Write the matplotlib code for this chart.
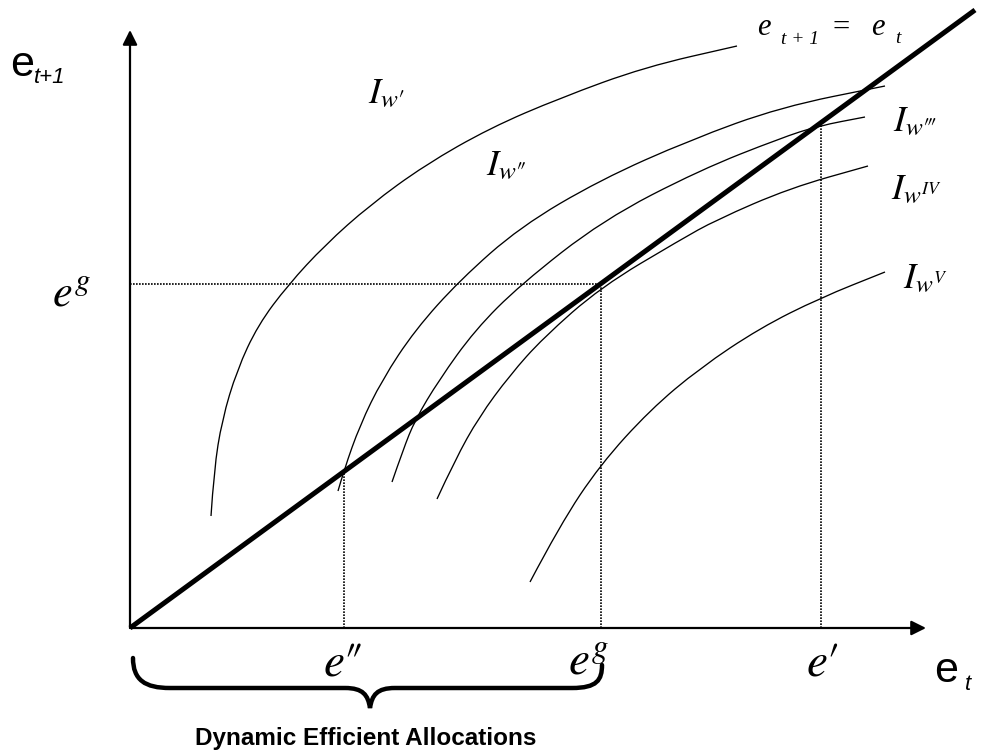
import numpy as np
import matplotlib
matplotlib.use("Agg")
import matplotlib.pyplot as plt
from matplotlib.path import Path
from matplotlib.patches import PathPatch

plt.rcParams['mathtext.fontset'] = 'stix'

# data units: origin of the diagram at (0, 0)
diag_x = [0, 845]
diag_y = [0, 618]
slope = diag_y[1] / diag_x[1]

e_dd = 214   # e''
e_g = 471    # e^g
e_p = 691    # e'

# indifference curves
c1_x = [81, 84, 92, 107, 128, 158, 195, 240, 295, 360, 430, 515, 607]
c1_y = [112, 158, 208, 258, 303, 343, 383, 423, 463, 500, 530, 561, 582]
c2_x = [208, 214, 230, 252, 285, 330, 390, 470, 560, 651, 755]
c2_y = [137, 158, 203, 248, 298, 348, 401, 448, 488, 521, 542]
c3_x = [262, 273, 285, 309, 345, 390, 473, 570, 651, 688, 735]
c3_y = [146, 178, 208, 248, 298, 343, 408, 458, 490, 502, 511]
c4_x = [307, 325, 349, 380, 413, 471, 550, 586, 660, 738]
c4_y = [129, 168, 211, 253, 290, 341, 388, 408, 440, 462]
c5_x = [400, 430, 470, 520, 570, 630, 690, 755]
c5_y = [46, 103, 163, 218, 260, 300, 330, 356]
curves = [(c1_x, c1_y), (c2_x, c2_y), (c3_x, c3_y), (c4_x, c4_y), (c5_x, c5_y)]


def smooth_path(xs, ys):
    verts = [(xs[0], ys[0])]
    codes = [Path.MOVETO]
    for i in range(1, len(xs) - 1):
        mx = (xs[i] + xs[i + 1]) / 2
        my = (ys[i] + ys[i + 1]) / 2
        verts += [(xs[i], ys[i]), (mx, my)]
        codes += [Path.CURVE3, Path.CURVE3]
    verts.append((xs[-1], ys[-1]))
    codes.append(Path.LINETO)
    return Path(verts, codes)


def px(x, y):
    # picture pixel -> data units
    return x - 130, 628 - y


fig = plt.figure(figsize=(9.84, 7.56), dpi=100)
ax = fig.add_axes([0, 0, 1, 1])
ax.set_xlim(-130, 854)
ax.set_ylim(-128, 628)
ax.axis('off')

# axes with arrows
ax.annotate('', xy=(0, 598), xytext=(0, 0),
            arrowprops=dict(arrowstyle='-|>', lw=1.6, color='black',
                            mutation_scale=22, shrinkA=0, shrinkB=0))
ax.annotate('', xy=(796, 0), xytext=(0, 0),
            arrowprops=dict(arrowstyle='-|>', lw=1.6, color='black',
                            mutation_scale=22, shrinkA=0, shrinkB=0))

# dotted guides
dot = dict(color='black', lw=1.2, linestyle=(0, (1, 0.8)))
for e in [e_dd, e_g, e_p]:
    ax.plot([e, e], [0, slope * e], **dot)
ax.plot([0, e_g], [slope * e_g, slope * e_g], **dot)

# indifference curves
for xs, ys in curves:
    ax.add_patch(PathPatch(smooth_path(xs, ys), fill=False, lw=0.95, edgecolor='black'))

# 45-degree line
ax.plot(diag_x, diag_y, color='black', lw=3.6, solid_capstyle='butt')

# axis labels
ax.text(*px(10, 76), 'e', fontsize=31, family='Liberation Sans')
ax.text(*px(34, 83), 't+1', fontsize=16, family='Liberation Sans', style='italic')
ax.text(*px(934, 682), 'e', fontsize=31, family='Liberation Sans')
ax.text(*px(965, 690), 't', fontsize=16, family='Liberation Sans', style='italic')

# e_{t+1} = e_t
serif = dict(family='Liberation Serif', style='italic')
ax.text(*px(757, 35), 'e', fontsize=22, **serif)
ax.text(*px(781, 44), 't + 1', fontsize=14, **serif)
ax.text(*px(832, 36), '=', fontsize=22, family='Liberation Serif')
ax.text(*px(871, 35), 'e', fontsize=22, **serif)
ax.text(*px(895, 43), 't', fontsize=14, **serif)

# curve labels
ax.text(*px(368, 103), r"$I_{w′}$", fontsize=26)
ax.text(*px(486, 175), r"$I_{w″}$", fontsize=26)
ax.text(*px(893, 131), r"$I_{w‴}$", fontsize=26)
ax.text(*px(891, 199), r"$I_{w^{IV}}$", fontsize=26)
ax.text(*px(903, 288), r"$I_{w^{V}}$", fontsize=26)

# point labels
ax.text(*px(52, 305), r"$e^{g}$", fontsize=32)
ax.text(*px(323, 675), r"$e″$", fontsize=34)
ax.text(*px(568, 675), r"$e^{g}$", fontsize=34)
ax.text(*px(806, 675), r"$e′$", fontsize=34)

# brace under the dynamic efficient range
bx0, bx1 = 3, e_g + 1
bm = 240
by = -60
brace = Path(
    [(bx0, by + 30), (bx0, by + 8), (bx0 + 12, by), (bx0 + 37, by),
     (bm - 25, by),
     (bm - 7, by), (bm - 2, by - 7), (bm, by - 20),
     (bm + 2, by - 7), (bm + 7, by), (bm + 25, by),
     (bx1 - 30, by),
     (bx1 - 5, by), (bx1, by + 8), (bx1, by + 23)],
    [Path.MOVETO, Path.CURVE4, Path.CURVE4, Path.CURVE4,
     Path.LINETO,
     Path.CURVE4, Path.CURVE4, Path.CURVE4,
     Path.CURVE4, Path.CURVE4, Path.CURVE4,
     Path.LINETO,
     Path.CURVE4, Path.CURVE4, Path.CURVE4])
ax.add_patch(PathPatch(brace, fill=False, lw=3.2, edgecolor='black', capstyle='round'))

ax.text(*px(366, 745), 'Dynamic Efficient Allocations', fontsize=17.5,
        family='Liberation Sans', weight='bold', ha='center')

fig.savefig('out.png', dpi=100)
